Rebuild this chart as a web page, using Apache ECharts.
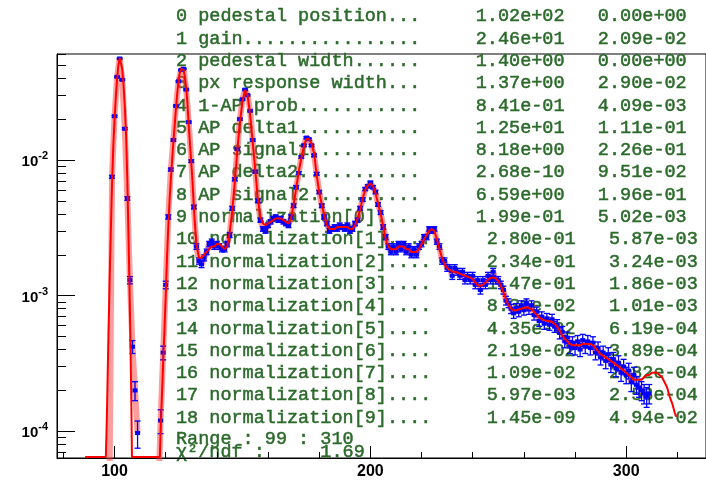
<!DOCTYPE html>
<html><head><meta charset="utf-8">
<script src="https://cdn.jsdelivr.net/npm/echarts@6/dist/echarts.min.js"></script>
<style>html,body{margin:0;padding:0;background:#fff}#c{width:706px;height:480px}</style>
</head><body><div id="c"></div>
<script>
// ---------------- data ----------------
const histFirstBin = 98;
const histBinWidth = 1;
const binValues = [
  3.0e-5, 0.0075, 0.021, 0.041, 0.056, 0.039, 0.017, 0.0052, 0.0013, 0.00042, 0.00020, 0.000097,
  null, null, null, null, null, null, null, 3.0e-5,
  0.00012, 0.00038, 0.0012, 0.0038, 0.0085, 0.014, 0.025, 0.038, 0.046, 0.047, 0.033, 0.019,
  0.0098, 0.0045, 0.0023, 0.0018, 0.0017, 0.0019, 0.0021, 0.0024, 0.0025, 0.0023,
  0.0024, 0.0023, 0.0022, 0.0022, 0.0024, 0.0028, 0.0044, 0.0072, 0.012, 0.020,
  0.028, 0.033, 0.030, 0.023, 0.014, 0.0082, 0.0050, 0.0036, 0.0031, 0.0030,
  0.0033, 0.0035, 0.0037, 0.0038, 0.0036, 0.0037, 0.0035, 0.0034, 0.0033, 0.0038,
  0.0046, 0.0063, 0.0080, 0.0105, 0.0128, 0.0146, 0.0142, 0.0128, 0.0108, 0.0079,
  0.0058, 0.0046, 0.0038, 0.0034, 0.0030, 0.0031, 0.0032, 0.0031, 0.0033, 0.0032,
  0.0031, 0.0033, 0.0030, 0.0031, 0.0034, 0.0036, 0.0044, 0.0051, 0.0061, 0.0064,
  0.0068, 0.0063, 0.0058, 0.0047, 0.0041, 0.0032, 0.0027, 0.0023, 0.0021, 0.0023,
  0.0021, 0.0024, 0.0022, 0.0024, 0.0021, 0.0023, 0.0020, 0.0022, 0.0020, 0.0023,
  0.0024, 0.0027, 0.0027, 0.0031, 0.0030, 0.0031, 0.0025, 0.0023, 0.0018, 0.0018,
  0.0016, 0.0016, 0.0014, 0.0016, 0.0015, 0.0014, 0.0015, 0.0013, 0.0014, 0.0013,
  0.0014, 0.0012, 0.0013, 0.0011, 0.0013, 0.0012, 0.0014, 0.0013, 0.0015, 0.0013,
  0.0013, 0.0012, 0.0011, 0.00092, 0.00088, 0.00080, 0.00074, 0.00081, 0.00076, 0.00085,
  0.00078, 0.00088, 0.00079, 0.00085, 0.00072, 0.00076, 0.00065, 0.00070, 0.00062, 0.00068,
  0.00061, 0.00067, 0.00059, 0.00061, 0.00053, 0.00054, 0.00046, 0.00049, 0.00042, 0.00045,
  0.00041, 0.00046, 0.00040, 0.00047, 0.00042, 0.00046, 0.00041, 0.00045, 0.00038, 0.00041,
  0.00035, 0.00038, 0.00033, 0.00037, 0.00031, 0.00034, 0.00029, 0.00032, 0.00027, 0.00030,
  0.00026, 0.00028, 0.00023, 0.00026, 0.00022, 0.00021, 0.00020, 0.00019, 0.00018, 0.00019
];
const binErrors = [
  1.2e-5, 0.00019, 0.00032, 0.00045, 0.00053, 0.00044, 0.00029, 0.00016, 0.00008, 0.000046, 0.000032, 0.000022,
  null, null, null, null, null, null, null, 1.2e-5,
  0.000024, 0.000044, 0.000077, 0.00014, 0.00021, 0.00026, 0.00035, 0.00044, 0.00048, 0.00048, 0.00041, 0.00031,
  0.00022, 0.00015, 0.00011, 0.000095, 0.000092, 0.000097, 0.0001, 0.00011, 0.00011, 0.00011,
  0.00011, 0.00011, 0.0001, 0.0001, 0.00011, 0.00012, 0.00015, 0.00019, 0.00024, 0.00032,
  0.00037, 0.00041, 0.00039, 0.00034, 0.00026, 0.0002, 0.00016, 0.00013, 0.00012, 0.00012,
  0.00013, 0.00013, 0.00014, 0.00014, 0.00013, 0.00014, 0.00013, 0.00013, 0.00013, 0.00014,
  0.00015, 0.00018, 0.0002, 0.00023, 0.00025, 0.00027, 0.00027, 0.00025, 0.00023, 0.0002,
  0.00017, 0.00015, 0.00014, 0.00013, 0.00012, 0.00012, 0.00013, 0.00012, 0.00013, 0.00013,
  0.00012, 0.00013, 0.00012, 0.00012, 0.00013, 0.00013, 0.00015, 0.00016, 0.00017, 0.00018,
  0.00018, 0.00018, 0.00017, 0.00015, 0.00014, 0.00013, 0.00012, 0.00011, 0.0001, 0.00011,
  0.0001, 0.00011, 0.0001, 0.00011, 0.0001, 0.00011, 0.0001, 0.0001, 0.0001, 0.00011,
  0.00011, 0.00012, 0.00012, 0.00012, 0.00012, 0.00012, 0.00011, 0.00011, 0.000095, 0.000095,
  0.000089, 0.000089, 0.000084, 0.000089, 0.000087, 0.000084, 0.000087, 0.000081, 0.000084, 0.000081,
  0.000084, 0.000077, 0.000081, 0.000074, 0.000081, 0.000077, 0.000084, 0.000081, 0.000087, 0.000081,
  0.000081, 0.000077, 0.000074, 0.000068, 0.000066, 0.000063, 0.000061, 0.000064, 0.000062, 0.000065,
  0.000062, 0.000066, 0.000063, 0.000065, 0.00006, 0.000062, 0.000057, 0.000059, 0.000056, 0.000058,
  0.000055, 0.000058, 0.000054, 0.000055, 0.000051, 0.000052, 0.000048, 0.000049, 0.000046, 0.000047,
  0.000045, 0.000048, 0.000045, 0.000048, 0.000046, 0.000048, 0.000045, 0.000047, 0.000044, 0.000045,
  0.000042, 0.000044, 0.000041, 0.000043, 0.000039, 0.000041, 0.000038, 0.00004, 0.000037, 0.000039,
  0.000036, 0.000037, 0.000034, 0.000036, 0.000033, 0.000032, 0.000032, 0.000031, 0.00003, 0.000031
];
const fitX = [
  88.5, 96.6, 97, 97.5, 98, 98.5, 99, 99.5, 100, 100.5, 101, 101.5, 102, 102.5, 103, 103.5, 104, 104.5,
  105, 105.5, 106, 106.5, 106.8, 117.7, 118, 118.5, 119, 119.5, 120, 120.5, 121, 121.5, 122, 122.5,
  123, 123.5, 124, 124.5, 125, 125.5, 126, 126.5, 127, 127.5, 128, 128.5, 129, 129.5, 130, 130.5,
  131, 131.5, 132, 133,
  134, 135, 136, 137, 138, 139, 140, 141, 142, 143, 144, 145, 146, 147, 148, 149,
  150, 151, 152, 153, 154, 155, 156, 157, 158, 159, 160, 161, 162, 163, 164, 165, 166, 167, 168, 169,
  170, 171, 172, 173, 174, 175, 176, 177, 178, 179, 180, 181, 182, 183, 184, 185, 186, 187, 188, 189,
  190, 191, 192, 193, 194, 195, 196, 197, 198, 199, 200, 201, 202, 203, 204, 205, 206, 207, 208, 209,
  210, 211, 212, 213, 214, 215, 216, 217, 218, 219, 220, 221, 222, 223, 224, 225, 226, 227, 228, 229,
  230, 231, 232, 233, 234, 235, 236, 237, 238, 239, 240, 241, 242, 243, 244, 245, 246, 247, 248, 249,
  250, 251, 252, 253, 254, 255, 256, 257, 258, 259, 260, 261, 262, 263, 264, 265, 266, 267, 268, 269,
  270, 271, 272, 273, 274, 275, 276, 277, 278, 279, 280, 281, 282, 283, 284, 285, 286, 287, 288, 289,
  290, 291, 292, 293, 294, 295, 296, 297, 298, 299, 300, 301, 302, 303, 304, 305, 306, 307, 308, 309,
  310, 311, 312, 313, 314, 315, 316, 317, 318, 319, 319.5
];
const fitY = [
  6.45e-5, 6.45e-5, 1.3e-4, 4.0e-4, 1.1e-3, 2.8e-3, 6.5e-3, 0.0125, 0.020, 0.029, 0.040, 0.050, 0.0565, 0.055, 0.047, 0.036, 0.025, 0.0155,
  0.0070, 0.0025, 8.0e-4, 2.0e-4, 6.45e-5, 6.45e-5, 1.0e-4, 1.8e-4, 3.2e-4, 5.5e-4, 1.0e-3, 1.9e-3, 3.2e-3, 5.0e-3, 7.2e-3, 0.010,
  0.0135, 0.018, 0.024, 0.031, 0.038, 0.044, 0.047, 0.0478, 0.046, 0.041, 0.034, 0.026, 0.018, 0.013, 0.0095, 0.0068,
  0.0045, 0.0032, 0.0024, 0.0019,
  0.0019, 0.0020, 0.0021, 0.0022, 0.0023, 0.0023, 0.0024, 0.0024, 0.0023, 0.0022, 0.0023, 0.0029, 0.0042, 0.0068, 0.0118, 0.019,
  0.027, 0.0328, 0.030, 0.0215, 0.0135, 0.0085, 0.0052, 0.0038, 0.0034, 0.0033, 0.0034, 0.0035, 0.0036, 0.0037, 0.0037, 0.0037, 0.0036, 0.0035, 0.0034, 0.0037,
  0.0047, 0.0062, 0.0082, 0.0103, 0.0126, 0.0143, 0.0143, 0.0132, 0.0112, 0.0078, 0.0058, 0.0047, 0.0039, 0.0033, 0.0031, 0.0031, 0.0031, 0.0032, 0.0032, 0.0032,
  0.0032, 0.0032, 0.0031, 0.0031, 0.0033, 0.0037, 0.0043, 0.0052, 0.0060, 0.0065, 0.0067, 0.0064, 0.0057, 0.0048, 0.0040, 0.0033, 0.0026, 0.0023, 0.0022, 0.0022,
  0.0022, 0.0023, 0.0023, 0.0023, 0.0022, 0.0022, 0.0021, 0.0021, 0.0021, 0.0022, 0.0024, 0.0026, 0.0028, 0.0030, 0.0031, 0.0030, 0.0026, 0.0022, 0.0019, 0.0017,
  0.0016, 0.00155, 0.0015, 0.0015, 0.00148, 0.00145, 0.00142, 0.0014, 0.00138, 0.00136, 0.00132, 0.00125, 0.00119, 0.00118, 0.0012, 0.00125, 0.00131, 0.00135, 0.00136, 0.00134,
  0.00128, 0.00118, 0.00106, 0.00094, 0.00085, 0.0008, 0.00078, 0.00078, 0.00079, 0.0008, 0.00081, 0.00082, 0.00081, 0.00079, 0.00076, 0.00072, 0.00069, 0.00067, 0.00066, 0.00065,
  0.00065, 0.00064, 0.00062, 0.00059, 0.00055, 0.00051, 0.00048, 0.00046, 0.00044, 0.00043, 0.00043, 0.00043, 0.00043, 0.00044, 0.00044, 0.00044, 0.00044, 0.00043, 0.00041, 0.00039,
  0.00037, 0.00036, 0.00035, 0.00034, 0.00033, 0.00032, 0.00031, 0.0003, 0.00029, 0.00028, 0.00027, 0.00026, 0.00025, 0.00024, 0.00024, 0.00024, 0.00024, 0.00025, 0.00026, 0.00026,
  0.00027, 0.00027, 0.00027, 0.00026, 0.00025, 0.00023, 0.00021, 0.00018, 0.00016, 0.000137, 0.000128
];
const xMajorTicks = [100, 200, 300];
const xMinorTicks = [80, 120, 140, 160, 180, 220, 240, 260, 280, 320];
const yMajorTicks = [1e-4, 1e-3, 1e-2];
const yMinorTicks = [7e-5, 8e-5, 9e-5, 2e-4, 3e-4, 4e-4, 5e-4, 6e-4, 7e-4, 8e-4, 9e-4,
  2e-3, 3e-3, 4e-3, 5e-3, 6e-3, 7e-3, 8e-3, 9e-3, 2e-2, 3e-2, 4e-2, 5e-2, 6e-2];
const paramNames = ["pedestal position", "gain", "pedestal width", "px response width", "1-AP prob",
  "AP delta1", "AP signal1", "AP delta2", "AP signal2", "normalization[0]", "normalization[1]",
  "normalization[2]", "normalization[3]", "normalization[4]", "normalization[5]", "normalization[6]",
  "normalization[7]", "normalization[8]", "normalization[9]"];
const paramValues = ["1.02e+02", "2.46e+01", "1.40e+00", "1.37e+00", "8.41e-01", "1.25e+01", "8.18e+00",
  "2.68e-10", "6.59e+00", "1.99e-01", "2.80e-01", "2.34e-01", "1.47e-01", "8.31e-02", "4.35e-02",
  "2.19e-02", "1.09e-02", "5.97e-03", "1.45e-09"];
const paramErrors = ["0.00e+00", "2.09e-02", "0.00e+00", "2.90e-02", "4.09e-03", "1.11e-01", "2.26e-01",
  "9.51e-02", "1.96e-01", "5.02e-03", "5.87e-03", "3.24e-03", "1.86e-03", "1.01e-03", "6.19e-04",
  "3.89e-04", "2.82e-04", "2.53e-04", "4.94e-02"];
const rangeText = "Range : 99 : 310";
const chi2Text = "χ²/ndf :     1.69";

// ---------------- chart ----------------
const X_MIN = 77.5, X_MAX = 331.2, Y_MIN = 6.35e-5, Y_MAX = 0.0604;
const histPoints = [];
const histLine = [];
binValues.forEach((v, i) => {
  const x = histFirstBin + i * histBinWidth;
  histLine.push([x, v === null ? null : v]);
  if (v !== null) histPoints.push([x, v, binErrors[i]]);
});
const fitData = fitX.map((x, i) => [x, fitY[i]]);

const txtColor = '#2c6a2c';
const mono = '"Liberation Mono", "Courier New", monospace';
const txtStyle = { fill: txtColor, fontFamily: mono, fontSize: 18.5, fontWeight: 'normal', verticalAlign: 'middle', align: 'left',
  stroke: txtColor, lineWidth: 0.5 };
const graphics = [];
paramNames.forEach((n, i) => {
  const line = i + ' ' + n.padEnd(20, '.') + '     ' + paramValues[i] + '   ' + paramErrors[i];
  graphics.push({ type: 'text', x: 176, y: 16.5 + 22.3 * i, z: 0, silent: true, style: { ...txtStyle, text: line } });
});
graphics.push({ type: 'text', x: 176, y: 439, z: 0, silent: true, style: { ...txtStyle, text: rangeText } });
graphics.push({ type: 'text', x: 176, y: 452, z: 0, silent: true, style: { ...txtStyle, text: chi2Text } });

const chart = echarts.init(document.getElementById('c'), null, { renderer: 'canvas' });
const axFont = { fontFamily: '"Liberation Sans", Arial, sans-serif', color: '#000' };
chart.setOption({
  animation: false,
  backgroundColor: '#fff',
  grid: { left: 57, right: -2, top: 54, bottom: 22, show: true, borderColor: '#000', borderWidth: 1, backgroundColor: 'transparent' },
  xAxis: [
    { type: 'value', min: X_MIN, max: X_MAX, position: 'bottom',
      axisLine: { show: true, lineStyle: { color: '#000', width: 1 } },
      axisTick: { show: true, inside: true, length: 12, customValues: xMajorTicks, lineStyle: { color: '#000' } },
      axisLabel: { show: true, customValues: xMajorTicks, margin: 6, fontSize: 16, fontWeight: 'bold', ...axFont },
      splitLine: { show: false } },
    { type: 'value', min: X_MIN, max: X_MAX, position: 'bottom',
      axisLine: { show: false },
      axisTick: { show: true, inside: true, length: 6, customValues: xMinorTicks, lineStyle: { color: '#000' } },
      axisLabel: { show: false }, splitLine: { show: false } }
  ],
  yAxis: [
    { type: 'log', logBase: 10, min: Y_MIN, max: Y_MAX, position: 'left',
      axisLine: { show: true, lineStyle: { color: '#000', width: 1 } },
      axisTick: { show: true, inside: true, length: 18, customValues: yMajorTicks, lineStyle: { color: '#000' } },
      axisLabel: { show: true, customValues: yMajorTicks, margin: 9,
        formatter: v => '{a|10}{b|' + Math.round(Math.log10(v)) + '}',
        rich: {
          a: { fontSize: 15, fontWeight: 'bold', verticalAlign: 'bottom', ...axFont },
          b: { fontSize: 11, fontWeight: 'bold', verticalAlign: 'bottom', padding: [0, 0, 8, 0], ...axFont }
        } },
      splitLine: { show: false } },
    { type: 'log', logBase: 10, min: Y_MIN, max: Y_MAX, position: 'left',
      axisLine: { show: false },
      axisTick: { show: true, inside: true, length: 9, customValues: yMinorTicks, lineStyle: { color: '#000' } },
      axisLabel: { show: false }, splitLine: { show: false } }
  ],
  graphic: { elements: graphics },
  series: [
    { type: 'line', name: 'histLine', xAxisIndex: 0, yAxisIndex: 0, data: histLine, showSymbol: false,
      connectNulls: false, clip: true, z: 2, silent: true,
      lineStyle: { color: 'rgba(255,60,60,0.5)', width: 6 } },
    { type: 'custom', name: 'hist', xAxisIndex: 0, yAxisIndex: 0, data: histPoints, clip: true, z: 3, silent: true,
      encode: { x: 0, y: 1 },
      renderItem: (params, api) => {
        const x = api.value(0), v = api.value(1), e = api.value(2);
        const c = api.coord([x, v]);
        const hi = api.coord([x, v + e]);
        const lo = api.coord([x, v - e]);
        const cap = 3;
        const st = { stroke: '#0000ff', lineWidth: 1.3 };
        return { type: 'group', children: [
          { type: 'line', shape: { x1: c[0], y1: hi[1], x2: c[0], y2: lo[1] }, style: st },
          { type: 'line', shape: { x1: c[0] - cap, y1: hi[1], x2: c[0] + cap, y2: hi[1] }, style: st },
          { type: 'line', shape: { x1: c[0] - cap, y1: lo[1], x2: c[0] + cap, y2: lo[1] }, style: st },
          { type: 'rect', shape: { x: c[0] - 2.5, y: c[1] - 2, width: 5, height: 4 }, style: { fill: '#0000ff' } }
        ] };
      } },
    { type: 'line', name: 'fit', xAxisIndex: 0, yAxisIndex: 0, data: fitData, showSymbol: false, clip: true, z: 4, silent: true,
      lineStyle: { color: '#ff0000', width: 2 } }
  ]
});
</script>
</body></html>
